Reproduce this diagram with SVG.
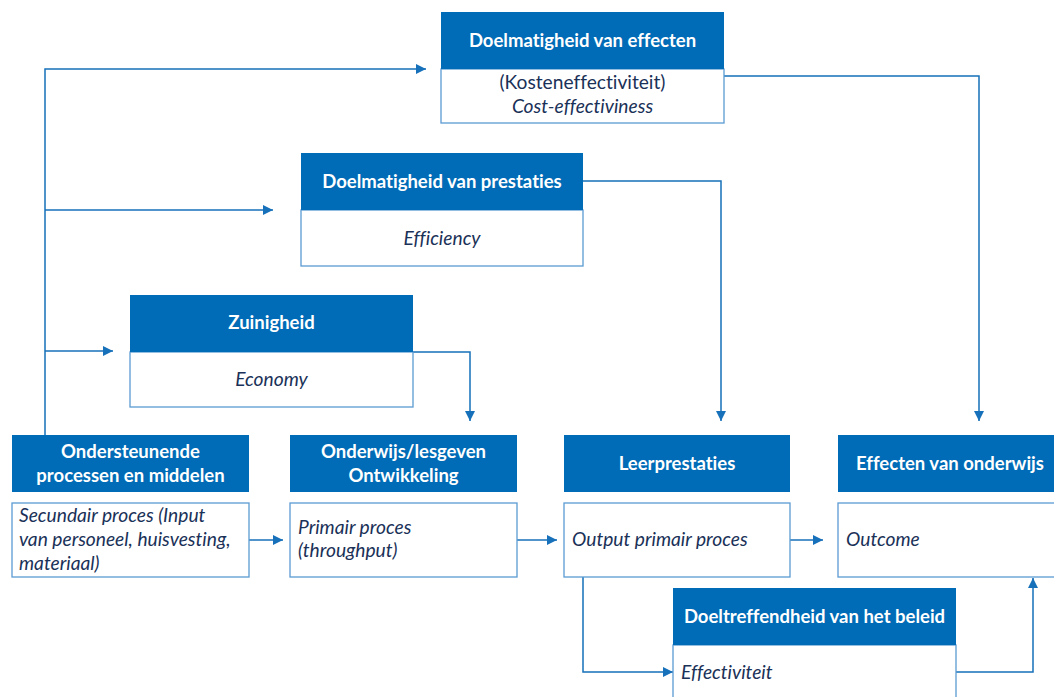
<svg xmlns="http://www.w3.org/2000/svg" width="1054" height="697" viewBox="0 0 1054 697">
<defs>
<style>
.hd{fill:#006bb6;}
.bd{fill:#ffffff;stroke:#5a9bd3;stroke-width:1.3;}
.ht{font-family:Lato,"Open Sans",sans-serif;font-weight:bold;font-size:18.5px;fill:#ffffff;text-anchor:middle;font-variant-ligatures:none;}
.bt{font-family:Lato,"Open Sans",sans-serif;font-size:19.2px;fill:#1a3158;font-variant-ligatures:none;}
.it{font-style:italic;}
.c{text-anchor:middle;}
.ln{fill:none;stroke:#1670ba;stroke-width:1.5;}
</style>
<marker id="ar" viewBox="0 0 10 10" refX="10" refY="5" markerWidth="10" markerHeight="10" markerUnits="userSpaceOnUse" orient="auto">
<path d="M0,0 L10,5 L0,10 z" fill="#1670ba"/>
</marker>
</defs>
<rect width="1054" height="697" fill="#ffffff"/>
<g id="connectors">
<path class="ln" d="M45,435 V69 H426" marker-end="url(#ar)"/>
<path class="ln" d="M45,210 H273" marker-end="url(#ar)"/>
<path class="ln" d="M45,351 H113" marker-end="url(#ar)"/>
<path class="ln" d="M724,76 H979 V421" marker-end="url(#ar)"/>
<path class="ln" d="M583,181 H721 V421" marker-end="url(#ar)"/>
<path class="ln" d="M413,352 H470 V421" marker-end="url(#ar)"/>
<path class="ln" d="M249,540 H283" marker-end="url(#ar)"/>
<path class="ln" d="M517,540 H557" marker-end="url(#ar)"/>
<path class="ln" d="M790,540 H823" marker-end="url(#ar)"/>
<path class="ln" d="M583,577 V672 H673" marker-end="url(#ar)"/>
<path class="ln" d="M956,672 H1033 V578" marker-end="url(#ar)"/>
</g>
<g id="node-doelmatigheid-effecten">
<rect class="bd" x="441" y="69" width="283" height="54"/>
<rect class="hd" x="441" y="12" width="283" height="57"/>
<text class="ht" x="582.5" y="47">Doelmatigheid van effecten</text>
<text class="bt c" x="582.5" y="89">(Kosteneffectiviteit)</text>
<text class="bt c it" x="582.5" y="113">Cost-effectiviness</text>
</g>
<g id="node-doelmatigheid-prestaties">
<rect class="bd" x="301" y="210" width="282" height="56"/>
<rect class="hd" x="301" y="153" width="282" height="57"/>
<text class="ht" x="442" y="188">Doelmatigheid van prestaties</text>
<text class="bt c it" x="442" y="245">Efficiency</text>
</g>
<g id="node-zuinigheid">
<rect class="bd" x="130" y="352" width="283" height="55"/>
<rect class="hd" x="130" y="295" width="283" height="57"/>
<text class="ht" x="271.5" y="329">Zuinigheid</text>
<text class="bt c it" x="271.5" y="386">Economy</text>
</g>
<g id="node-ondersteunende">
<rect class="hd" x="12" y="435" width="237" height="57"/>
<text class="ht" x="130.5" y="458">Ondersteunende</text>
<text class="ht" x="130.5" y="482">processen en middelen</text>
<rect class="bd" x="12" y="503" width="237" height="74"/>
<text class="bt it" x="19" y="522">Secundair proces (Input</text>
<text class="bt it" x="19" y="546">van personeel, huisvesting,</text>
<text class="bt it" x="19" y="570">materiaal)</text>
</g>
<g id="node-onderwijs">
<rect class="hd" x="290" y="435" width="227" height="57"/>
<text class="ht" x="403.5" y="458">Onderwijs/lesgeven</text>
<text class="ht" x="403.5" y="482">Ontwikkeling</text>
<rect class="bd" x="290" y="503" width="227" height="74"/>
<text class="bt it" x="298" y="534">Primair proces</text>
<text class="bt it" x="298" y="557">(throughput)</text>
</g>
<g id="node-leerprestaties">
<rect class="hd" x="564" y="435" width="226" height="57"/>
<text class="ht" x="677" y="470">Leerprestaties</text>
<rect class="bd" x="564" y="503" width="226" height="74"/>
<text class="bt it" x="572" y="546">Output primair proces</text>
</g>
<g id="node-effecten">
<rect class="hd" x="838" y="435" width="220" height="57"/>
<text class="ht" x="950" y="470">Effecten van onderwijs</text>
<rect class="bd" x="838" y="503" width="220" height="74"/>
<text class="bt it" x="846" y="546">Outcome</text>
</g>
<g id="node-doeltreffendheid">
<rect class="bd" x="673" y="645" width="283" height="60"/>
<rect class="hd" x="673" y="588" width="283" height="57"/>
<text class="ht" x="814.5" y="623">Doeltreffendheid van het beleid</text>
<text class="bt it" x="681" y="679">Effectiviteit</text>
</g>
</svg>
